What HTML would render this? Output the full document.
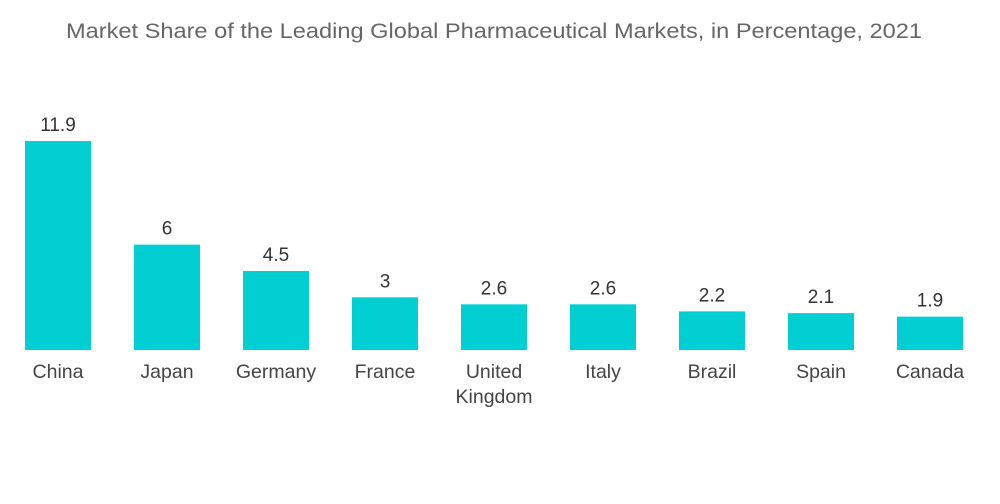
<!DOCTYPE html>
<html><head><meta charset="utf-8"><style>
body{margin:0;background:#fff;font-family:"Liberation Sans",sans-serif;}
svg{display:block}
</style></head><body>
<svg id="chart" width="1000" height="504">
<text x="494" y="38" text-anchor="middle" font-size="21" fill="#666" textLength="856" lengthAdjust="spacingAndGlyphs">Market Share of the Leading Global Pharmaceutical Markets, in Percentage, 2021</text>
<g id="bars"></g>
</svg>
<script>
const categories=["China","Japan","Germany","France","United Kingdom","Italy","Brazil","Spain","Canada"];
const values=[11.9,6,4.5,3,2.6,2.6,2.2,2.1,1.9];
const valueLabels=["11.9","6","4.5","3","2.6","2.6","2.2","2.1","1.9"];
const baseY=350, pxPerUnit=17.56, x0=58, step=109, bw=66;
const yScale=v=>baseY-v*pxPerUnit;
const xScale=i=>x0+i*step;
const g=document.getElementById('bars');
const NS="http://www.w3.org/2000/svg";
categories.forEach((c,i)=>{
  const cx=xScale(i), y=yScale(values[i]);
  const r=document.createElementNS(NS,'rect');
  r.setAttribute('x',cx-bw/2);r.setAttribute('y',y);r.setAttribute('width',bw);r.setAttribute('height',baseY-y);r.setAttribute('fill','#00CED1');
  
  
  g.appendChild(r);
  const t=document.createElementNS(NS,'text');
  t.setAttribute('x',cx);t.setAttribute('y',y-10);t.setAttribute('text-anchor','middle');t.setAttribute('font-size','19');t.setAttribute('fill','#333');
  t.textContent=valueLabels[i];
  
  
  g.appendChild(t);
  c.split(' ').forEach((w,j)=>{
    const l=document.createElementNS(NS,'text');
    l.setAttribute('x',cx);l.setAttribute('y',378+j*25);l.setAttribute('text-anchor','middle');l.setAttribute('font-size','19.5');l.setAttribute('fill','#444');
    l.textContent=w;
    
    
    g.appendChild(l);
  });
});
</script>
</body></html>
